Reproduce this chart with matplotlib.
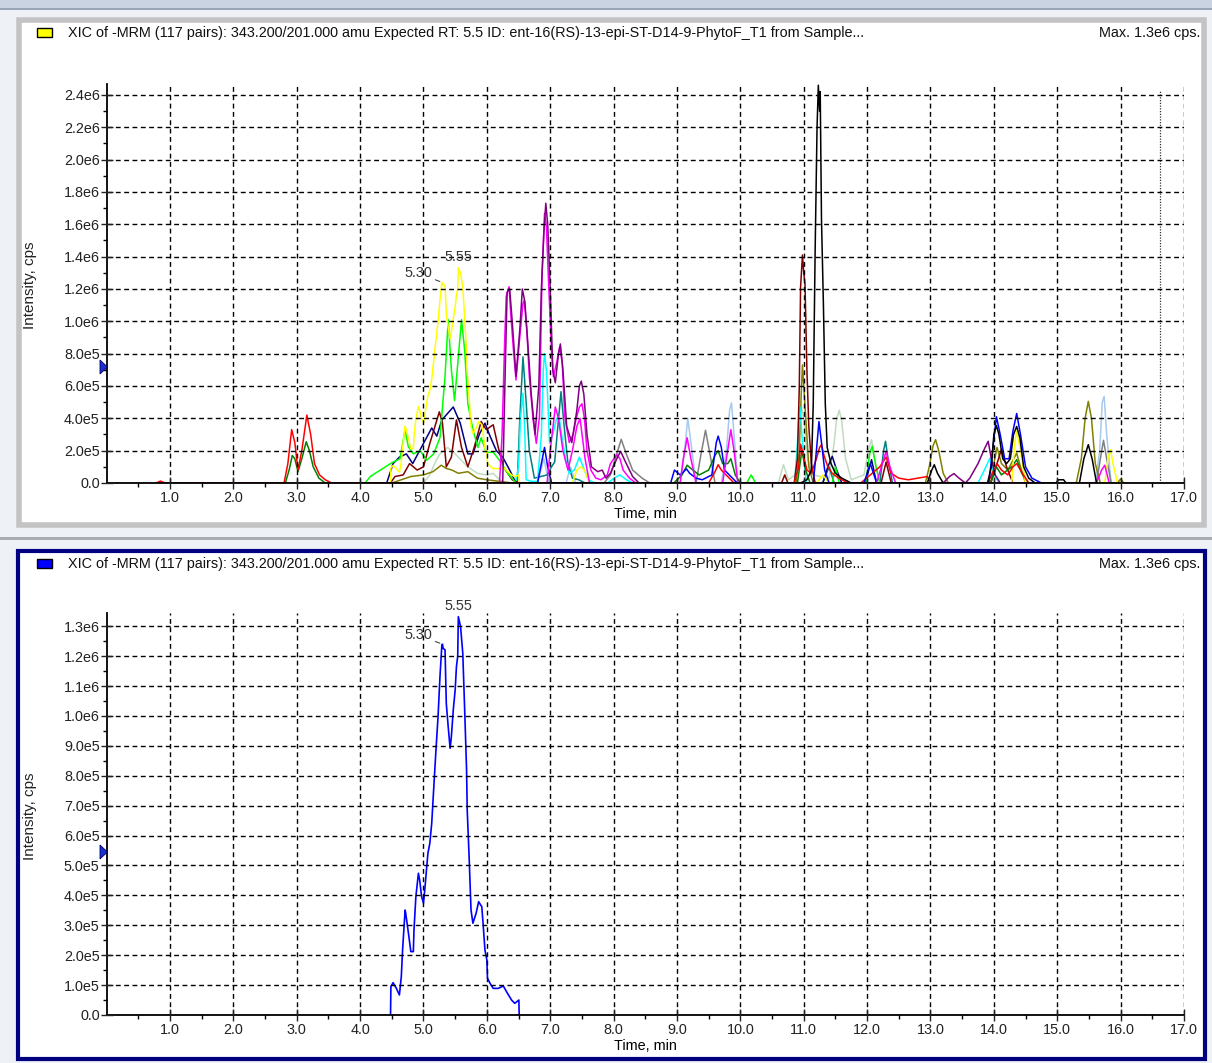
import matplotlib
matplotlib.use("Agg")
import matplotlib.pyplot as plt
import numpy as np
from matplotlib.patches import Rectangle, Polygon
from matplotlib.ticker import MultipleLocator, FixedLocator, FuncFormatter

plt.rcParams['font.family'] = ['Liberation Sans', 'DejaVu Sans']

# ---- dados (tempo em min, intensidade em 1e6 cps) ----
# XIC selecionado (amarelo em cima, azul embaixo)
xic_t = [4.48, 4.486, 4.52, 4.57, 4.62, 4.65, 4.67, 4.71, 4.72, 4.77, 4.80, 4.84, 4.85, 4.88,
         4.92, 4.94, 4.97, 5.00, 5.02, 5.07, 5.10, 5.13, 5.16, 5.20, 5.23, 5.26, 5.29, 5.30,
         5.31, 5.34, 5.36, 5.39, 5.42, 5.44, 5.47, 5.50, 5.52, 5.54, 5.55, 5.585, 5.62, 5.65,
         5.68, 5.69, 5.72, 5.75, 5.78, 5.83, 5.87, 5.92, 5.94, 5.97, 6.00, 6.01, 6.05, 6.10,
         6.18, 6.26, 6.31, 6.39, 6.44, 6.505, 6.51]
xic_y = [0.0, 0.095, 0.108, 0.09, 0.067, 0.128, 0.217, 0.351, 0.34, 0.262, 0.212, 0.212, 0.284, 0.396,
         0.474, 0.451, 0.396, 0.374, 0.418, 0.541, 0.574, 0.641, 0.752, 0.897, 0.998, 1.131, 1.237, 1.24,
         1.226, 1.221, 1.042, 0.964, 0.892, 0.931, 1.020, 1.087, 1.165, 1.2, 1.332, 1.299, 1.21, 1.02,
         0.819, 0.686, 0.529, 0.351, 0.307, 0.340, 0.379, 0.362, 0.307, 0.217, 0.184, 0.123, 0.106, 0.089,
         0.089, 0.097, 0.078, 0.050, 0.039, 0.050, 0.0]

lime_t = [4.08, 4.16, 4.36, 4.50, 4.63, 4.71, 4.76, 4.84, 4.95, 5.05, 5.16, 5.26, 5.34, 5.39, 5.44,
          5.49, 5.55, 5.60, 5.65, 5.70, 5.78, 5.86, 5.91, 5.99, 6.10, 6.20, 6.33, 6.46,
          10.1, 10.17, 10.24, 11.45, 11.5, 11.56, 11.98, 12.04, 12.08, 12.14, 12.2]
lime_y = [0.0, 0.04, 0.09, 0.125, 0.15, 0.33, 0.225, 0.18, 0.2, 0.14, 0.18, 0.28, 0.66, 1.01, 0.7,
          0.51, 0.78, 1.01, 0.82, 0.49, 0.33, 0.22, 0.28, 0.19, 0.19, 0.14, 0.06, 0.0,
          0.0, 0.05, 0.0, 0.0, 0.1, 0.0, 0.0, 0.18, 0.227, 0.1, 0.0]

dkgreen_t = [2.82, 2.88, 2.93, 2.97, 3.02, 3.08, 3.15, 3.20, 3.26, 3.35, 3.45,
             8.95, 9.08, 9.16, 9.25, 9.35, 9.5, 9.6, 9.65, 9.72, 9.8, 9.85, 9.92, 10.0,
             10.9, 10.97, 11.03, 11.1, 13.95, 14.04, 14.12, 14.28, 14.36, 14.44, 14.55]
dkgreen_y = [0.0, 0.08, 0.17, 0.15, 0.07, 0.15, 0.255, 0.2, 0.1, 0.03, 0.0,
             0.0, 0.05, 0.11, 0.08, 0.05, 0.08, 0.17, 0.2, 0.12, 0.12, 0.15, 0.05, 0.0,
             0.0, 0.2, 0.08, 0.0, 0.0, 0.1, 0.05, 0.1, 0.144, 0.06, 0.0]

red_t = [0.78, 0.85, 0.92, 2.80, 2.86, 2.92, 2.97, 3.02, 3.08, 3.16, 3.22, 3.28, 3.36, 3.45, 3.55,
         9.5, 9.6, 9.65, 9.7, 9.8, 9.9,
         10.85, 10.92, 10.95, 10.99, 11.05, 11.12, 11.2, 11.25, 11.28, 11.32, 11.38, 11.45, 11.55, 11.7,
         11.9, 12.05, 12.2, 12.3, 12.38, 12.5, 12.65, 12.8, 12.95, 13.0,
         13.9, 14.0, 14.05, 14.12, 14.22, 14.3, 14.36, 14.45, 14.55]
red_y = [0.0, 0.012, 0.0, 0.0, 0.12, 0.33, 0.25, 0.08, 0.2, 0.42, 0.3, 0.12, 0.05, 0.02, 0.0,
         0.0, 0.07, 0.113, 0.08, 0.04, 0.0,
         0.0, 0.1, 0.24, 0.18, 0.08, 0.06, 0.15, 0.22, 0.237, 0.17, 0.1, 0.06, 0.03, 0.0,
         0.0, 0.05, 0.1, 0.16, 0.06, 0.03, 0.02, 0.03, 0.04, 0.0,
         0.0, 0.08, 0.12, 0.08, 0.05, 0.1, 0.12, 0.06, 0.0]

magenta_t = [6.2, 6.24, 6.28, 6.305, 6.35, 6.38, 6.42, 6.46, 6.52, 6.57, 6.59, 6.63, 6.67, 6.73,
             6.78, 6.83, 6.87, 6.91, 6.94, 6.97, 7.02, 7.05, 7.10, 7.15, 7.19, 7.23, 7.30, 7.36,
             7.41, 7.46, 7.50, 7.54, 7.58, 7.64, 7.72, 7.80, 7.9, 7.95, 8.05, 8.1, 8.15, 8.25, 8.35,
             9.05, 9.1, 9.16, 9.22, 9.3, 9.72, 9.8, 9.85, 9.9, 9.96,
             12.15, 12.24, 12.3, 12.36, 12.45, 15.62, 15.7, 15.75, 15.82]
magenta_y = [0.0, 0.3, 0.864, 1.153, 1.214, 1.03, 0.82, 0.637, 0.905, 1.11, 1.13, 0.946, 0.658, 0.39,
             0.245, 0.41, 1.276, 1.668, 1.586, 1.276, 0.823, 0.658, 0.74, 0.843, 0.74, 0.41, 0.25, 0.3,
             0.4, 0.47, 0.49, 0.4, 0.2, 0.08, 0.03, 0.02, 0.05, 0.12, 0.175, 0.15, 0.08, 0.03, 0.0,
             0.0, 0.15, 0.28, 0.15, 0.0, 0.0, 0.2, 0.33, 0.2, 0.0,
             0.0, 0.12, 0.196, 0.1, 0.0, 0.0, 0.08, 0.11, 0.0]

pink_t = [6.95, 7.0, 7.08, 7.13, 7.2, 7.28, 7.35, 7.42, 7.47, 7.55, 7.62]
pink_y = [0.0, 0.2, 0.47, 0.4, 0.2, 0.08, 0.2, 0.35, 0.4, 0.15, 0.0]

purple_t = [6.25, 6.29, 6.32, 6.36, 6.40, 6.46, 6.52, 6.56, 6.60, 6.64, 6.70, 6.76, 6.82, 6.86,
            6.90, 6.93, 6.96, 7.00, 7.04, 7.08, 7.13, 7.16, 7.20, 7.26, 7.34, 7.42, 7.46, 7.49,
            7.53, 7.58, 7.65, 7.75, 7.82, 7.88, 7.95, 8.05, 8.11, 8.2, 8.3, 8.4,
            13.2, 13.3, 13.37, 13.45, 13.55, 13.62, 13.75, 13.85, 13.91, 13.96, 14.02, 14.1]
purple_y = [0.0, 0.7, 1.18, 1.2, 1.0, 0.66, 0.95, 1.2, 1.12, 0.9, 0.55, 0.3, 0.6, 1.2,
            1.55, 1.73, 1.6, 1.2, 0.7, 0.62, 0.8, 0.86, 0.7, 0.35, 0.25, 0.45, 0.6, 0.63,
            0.55, 0.3, 0.1, 0.07, 0.08, 0.03, 0.06, 0.15, 0.196, 0.12, 0.04, 0.0,
            0.0, 0.04, 0.058, 0.03, 0.0, 0.03, 0.12, 0.21, 0.258, 0.15, 0.05, 0.0]

cyan_t = [6.45, 6.50, 6.53, 6.57, 6.60, 6.62, 6.70, 6.80, 6.86, 6.89, 6.91, 6.94, 6.99, 7.04,
          7.10, 7.14, 7.18, 7.24, 7.30, 7.38, 7.46, 7.52, 7.6, 7.7, 7.9, 8.05, 8.1, 8.2, 8.3,
          10.86, 10.91, 10.94, 10.98, 11.04, 13.75, 13.85, 13.94, 14.0, 14.08]
cyan_y = [0.0, 0.1, 0.4, 0.555, 0.3, 0.02, 0.01, 0.01, 0.3, 0.7, 0.8, 0.7, 0.245, 0.3,
          0.4, 0.41, 0.3, 0.15, 0.06, 0.08, 0.16, 0.1, 0.02, 0.0, 0.0, 0.04, 0.05, 0.02, 0.0,
          0.0, 0.3, 0.47, 0.25, 0.0, 0.0, 0.08, 0.155, 0.06, 0.0]

teal_t = [6.48, 6.52, 6.57, 6.62, 6.67, 6.75, 6.85, 6.95, 7.02, 7.07, 7.12, 7.17, 7.22, 7.28,
          7.35, 7.45, 7.55, 11.3, 11.4, 11.48, 12.2, 12.26, 12.29, 12.33, 12.4]
teal_y = [0.0, 0.4, 0.78, 0.5, 0.2, 0.03, 0.04, 0.05, 0.1, 0.13, 0.35, 0.565, 0.35, 0.12,
          0.03, 0.02, 0.0, 0.0, 0.1, 0.0, 0.0, 0.2, 0.258, 0.15, 0.0]

maroon_t = [4.48, 4.55, 4.68, 4.78, 4.9, 5.0, 5.1, 5.25, 5.30, 5.36, 5.44, 5.52, 5.60, 5.70,
            5.80, 5.91, 5.99, 6.1, 6.18, 6.26, 6.4, 6.5,
            10.65, 10.7, 10.75, 10.85, 10.9, 10.93, 10.95, 10.98, 11.0, 11.02, 11.05, 11.08, 11.12, 11.18,
            12.22, 12.3, 12.38, 13.95, 14.05, 14.12, 14.2, 14.3]
maroon_y = [0.0, 0.04, 0.05, 0.12, 0.08, 0.1, 0.245, 0.44, 0.37, 0.1, 0.16, 0.39, 0.22, 0.1,
            0.22, 0.38, 0.33, 0.36, 0.22, 0.1, 0.02, 0.0,
            0.0, 0.05, 0.0, 0.0, 0.15, 0.6, 1.21, 1.41, 1.3, 1.23, 0.7, 0.35, 0.12, 0.0,
            0.0, 0.13, 0.0, 0.0, 0.12, 0.21, 0.1, 0.0]

navy_t = [4.42, 4.52, 4.62, 4.73, 4.83, 5.0, 5.13, 5.21, 5.29, 5.47, 5.58, 5.70, 5.78, 5.88,
          5.97, 6.05, 6.15, 6.25, 6.36, 6.46, 11.3, 11.38, 11.45, 11.52, 11.6,
          11.97, 12.07, 12.15]
navy_y = [0.0, 0.12, 0.16, 0.18, 0.12, 0.245, 0.34, 0.29, 0.39, 0.47, 0.37, 0.18, 0.18, 0.3,
          0.37, 0.29, 0.2, 0.16, 0.08, 0.0, 0.0, 0.1, 0.165, 0.08, 0.0,
          0.0, 0.144, 0.0]

olive_t = [4.5, 4.65, 4.8, 5.0, 5.15, 5.28, 5.36, 5.45, 5.55, 5.7, 5.85, 6.0, 6.2, 6.4,
           10.88, 10.93, 10.96, 10.98, 11.0, 11.04, 11.08, 11.15,
           12.92, 12.98, 13.04, 13.08, 13.13, 13.2, 13.28,
           13.95, 14.0, 14.05, 14.12, 14.22, 14.3, 14.36, 14.42, 14.5,
           15.3, 15.38, 15.44, 15.49, 15.54, 15.6, 15.68, 15.95, 16.0, 16.05]
olive_y = [0.0, 0.02, 0.04, 0.05, 0.07, 0.11, 0.09, 0.08, 0.06, 0.07, 0.03, 0.02, 0.01, 0.0,
           0.0, 0.2, 0.55, 0.73, 0.6, 0.35, 0.1, 0.0,
           0.0, 0.1, 0.23, 0.268, 0.2, 0.06, 0.0,
           0.0, 0.12, 0.22, 0.12, 0.08, 0.14, 0.185, 0.1, 0.0,
           0.0, 0.15, 0.4, 0.505, 0.4, 0.12, 0.0, 0.0, 0.025, 0.0]

gray_t = [7.85, 7.95, 8.05, 8.12, 8.2, 8.3, 8.45, 8.57, 9.3, 9.38, 9.45, 9.52, 9.6,
          15.62, 15.68, 15.73, 15.78, 15.85]
gray_y = [0.0, 0.05, 0.18, 0.27, 0.18, 0.08, 0.03, 0.0, 0.0, 0.18, 0.326, 0.18, 0.0,
          0.0, 0.15, 0.264, 0.15, 0.0]

sage_t = [5.0, 5.1, 5.2, 5.26, 5.32, 5.38, 5.5, 5.6, 5.7, 5.85, 6.0, 6.1, 6.2, 6.3,
          10.6, 10.68, 10.76, 10.86, 10.92, 10.96, 11.0, 11.06, 11.14, 11.4, 11.48, 11.52, 11.56,
          11.6, 11.66, 11.75, 11.95, 12.02, 12.07, 12.12, 12.2]
sage_y = [0.0, 0.05, 0.14, 0.18, 0.2, 0.22, 0.18, 0.14, 0.1, 0.06, 0.05, 0.06, 0.02, 0.0,
          0.0, 0.113, 0.02, 0.05, 0.3, 0.48, 0.4, 0.15, 0.05, 0.03, 0.25, 0.4, 0.45,
          0.38, 0.15, 0.02, 0.05, 0.2, 0.268, 0.15, 0.0]

ltblue_t = [6.8, 6.9, 6.98, 7.25, 7.32, 7.4, 9.05, 9.12, 9.17, 9.22, 9.3, 9.7, 9.78, 9.83, 9.86,
            9.9, 9.96, 15.6, 15.67, 15.71, 15.74, 15.78, 15.85]
ltblue_y = [0.0, 0.15, 0.0, 0.0, 0.1, 0.0, 0.0, 0.2, 0.40, 0.25, 0.0, 0.0, 0.2, 0.45, 0.495,
            0.3, 0.0, 0.0, 0.2, 0.5, 0.536, 0.3, 0.0]

black_t = [10.95, 11.05, 11.12, 11.15, 11.18, 11.21, 11.23, 11.25, 11.26, 11.28, 11.31, 11.34,
           11.37, 11.43, 11.5, 11.6, 11.75, 12.95, 13.02, 13.06, 13.11, 13.2,
           13.9, 13.96, 14.0, 14.04, 14.08, 14.14, 14.2, 14.26, 14.31, 14.36, 14.41, 14.47, 14.55, 14.65,
           14.98, 15.02, 15.1, 15.14, 15.35, 15.42, 15.49, 15.55, 15.62]
black_y = [0.0, 0.02, 0.08, 0.49, 1.44, 2.2, 2.46, 2.3, 2.42, 1.63, 1.11, 0.49,
           0.22, 0.12, 0.06, 0.03, 0.0, 0.0, 0.08, 0.113, 0.06, 0.0,
           0.0, 0.1, 0.3, 0.355, 0.3, 0.15, 0.12, 0.15, 0.3, 0.35, 0.28, 0.1, 0.03, 0.0,
           0.0, 0.02, 0.02, 0.0, 0.0, 0.15, 0.237, 0.15, 0.0]

blue_t = [6.8, 6.86, 6.91, 6.96, 7.02, 8.9, 8.96, 9.05, 9.15, 9.2, 9.3, 9.4, 9.55, 9.62, 9.65,
          9.7, 9.75, 9.85, 9.95, 11.15, 11.2, 11.24, 11.28, 11.33, 11.4, 11.95, 12.05, 12.15,
          13.92, 13.98, 14.04, 14.1, 14.17, 14.24, 14.3, 14.36, 14.42, 14.5, 14.6, 14.75]
blue_y = [0.0, 0.12, 0.22, 0.1, 0.0, 0.0, 0.08, 0.05, 0.087, 0.06, 0.03, 0.02, 0.05, 0.25, 0.29,
          0.22, 0.08, 0.04, 0.0, 0.0, 0.2, 0.38, 0.25, 0.08, 0.0, 0.0, 0.12, 0.0,
          0.0, 0.2, 0.41, 0.3, 0.15, 0.15, 0.32, 0.43, 0.3, 0.1, 0.03, 0.0]

yellow2_t = [7.35, 7.42, 7.48, 7.54, 7.62, 11.2, 11.3, 11.4, 14.28, 14.33, 14.36, 14.42, 14.5,
             15.75, 15.8, 15.84, 15.88, 15.95]
yellow2_y = [0.0, 0.08, 0.1, 0.08, 0.0, 0.0, 0.05, 0.0, 0.0, 0.25, 0.32, 0.2, 0.0,
             0.0, 0.15, 0.206, 0.12, 0.0]

titulo = ("XIC of -MRM (117 pairs): 343.200/201.000 amu Expected RT: 5.5 ID: "
          "ent-16(RS)-13-epi-ST-D14-9-PhytoF_T1 from Sample...")
max_txt = "Max. 1.3e6 cps."
pico1, pico2 = 5.30, 5.55

tracos = [
    (sage_t, sage_y, '#c0dcc0'), (ltblue_t, ltblue_y, '#a6caf0'), (gray_t, gray_y, '#808080'),
    (olive_t, olive_y, '#808000'), (teal_t, teal_y, '#008080'), (cyan_t, cyan_y, '#00ffff'),
    (navy_t, navy_y, '#000080'), (maroon_t, maroon_y, '#800000'), (dkgreen_t, dkgreen_y, '#008000'),
    (lime_t, lime_y, '#00ff00'), (xic_t, xic_y, '#ffff00'), (yellow2_t, yellow2_y, '#ffff00'),
    (red_t, red_y, '#ff0000'), (blue_t, blue_y, '#0000ff'), (pink_t, pink_y, '#ff00ff'),
    (magenta_t, magenta_y, '#ff00ff'), (purple_t, purple_y, '#800080'), (black_t, black_y, '#000000'),
]

W, H = 1212, 1063
FS = 10.4
fig = plt.figure(figsize=(W / 100, H / 100), dpi=100)
fig.patch.set_facecolor('#eef1f6')


def caixa(x0, y0, x1, y1, **kw):
    fig.patches.append(Rectangle((x0 / W, 1 - y1 / H), (x1 - x0) / W, (y1 - y0) / H,
                                 transform=fig.transFigure, figure=fig, zorder=-5, **kw))


# janelas
caixa(0, 0, W, 8, facecolor='#c9d3e2', edgecolor='none')
caixa(0, 8, W, 10, facecolor='#9aa6b8', edgecolor='none')
caixa(19, 20, 1204, 525, facecolor='white', edgecolor='#c3c3c3', linewidth=4)
caixa(0, 537, W, 540, facecolor='#a8acb3', edgecolor='none')
caixa(18, 551, 1205, 1059, facecolor='white', edgecolor='#000080', linewidth=3)


def fmt_y(v, pos):
    if v <= 0:
        return "0.0"
    e = int(np.floor(np.log10(v) + 1e-9))
    m = v / 10 ** e
    return f"{m:.1f}e{e}"


def painel(y_base, y_top_px, ymax, ystep, cor_leg, y_cab):
    x0 = 106.6
    ax = fig.add_axes([x0 / W, 1 - y_base / H, (1184 - x0) / W, (y_base - y_top_px) / H])
    ax.set_facecolor('none')
    ax.set_xlim(0, 17)
    ax.set_ylim(0, ymax)
    for s in ['top', 'right']:
        ax.spines[s].set_visible(False)
    for s in ['left', 'bottom']:
        ax.spines[s].set_linewidth(1.3)
    ax.xaxis.set_major_locator(FixedLocator(np.arange(1, 18)))
    ax.xaxis.set_minor_locator(FixedLocator(np.arange(0.5, 17, 1.0)))
    ax.xaxis.set_major_formatter(FuncFormatter(lambda v, p: f"{v:.1f}"))
    ax.yaxis.set_major_locator(MultipleLocator(ystep))
    ax.yaxis.set_minor_locator(MultipleLocator(ystep / 2))
    ax.yaxis.set_major_formatter(FuncFormatter(fmt_y))
    ax.tick_params(which='major', direction='inout', length=8, width=1, labelsize=FS, colors='#222222')
    ax.tick_params(which='minor', direction='out', length=3, width=1)
    ax.tick_params(axis='x', pad=2)
    ax.tick_params(axis='y', pad=1)
    ax.grid(True, which='major', color='black', linestyle=(0, (3.5, 2.5)), linewidth=1.0)
    ax.set_axisbelow(False)
    ax.set_xlabel("Time, min", fontsize=FS, labelpad=1)
    fig.text(30 / W, 1 - ((y_base + y_top_px) / 2 + 2) / H, "Intensity, cps", rotation=90,
             ha='center', va='center', fontsize=FS + 0.6, color='#222222')
    caixa(37, y_cab - 5, 52, y_cab + 4, facecolor=cor_leg, edgecolor='black', linewidth=1)
    fig.text(68 / W, 1 - y_cab / H, titulo, ha='left', va='center', fontsize=FS, color='#111111')
    fig.text(1200 / W, 1 - y_cab / H, max_txt, ha='right', va='center', fontsize=FS, color='#111111')
    return ax


ax1 = painel(483, 83.6, 2.47e6, 2e5, '#ffff00', 33)
for t, y, c in tracos:
    ax1.plot(t, np.array(y) * 1e6, color=c, lw=1.1, zorder=2)
ax1.axvline(16.62, ymax=0.985, color='#333333', lw=0.9, linestyle=(0, (1, 1.2)), zorder=1)

ax2 = painel(1015, 612.8, 1.345e6, 1e5, '#0000ff', 564)
ax2.plot(xic_t, np.array(xic_y) * 1e6, color='#0000ff', lw=1.2, zorder=2)


def rotulos(ax):
    y1 = xic_y[xic_t.index(pico1)] * 1e6
    y2 = xic_y[xic_t.index(pico2)] * 1e6
    ax.annotate(f"{pico1:.2f}", xy=(pico1, y1), xytext=(-10, 9), textcoords='offset pixels',
                ha='right', va='center', fontsize=FS, color='#333333',
                arrowprops=dict(arrowstyle='-', lw=0.7, color='#333333', shrinkA=0, shrinkB=2))
    ax.annotate(f"{pico2:.2f}", xy=(pico2, y2), xytext=(0, 11), textcoords='offset pixels',
                ha='center', va='center', fontsize=FS, color='#333333')


rotulos(ax1)
rotulos(ax2)

# marcadores triangulares no eixo y
for yc in (367, 852):
    fig.patches.append(Polygon([(100 / W, 1 - (yc - 7) / H), (100 / W, 1 - (yc + 7) / H),
                                (107.5 / W, 1 - yc / H)], closed=True, transform=fig.transFigure,
                               figure=fig, facecolor='#1a2fd0', edgecolor='#000060', lw=0.6, zorder=5))

fig.savefig("out.png", dpi=100, facecolor=fig.get_facecolor())
